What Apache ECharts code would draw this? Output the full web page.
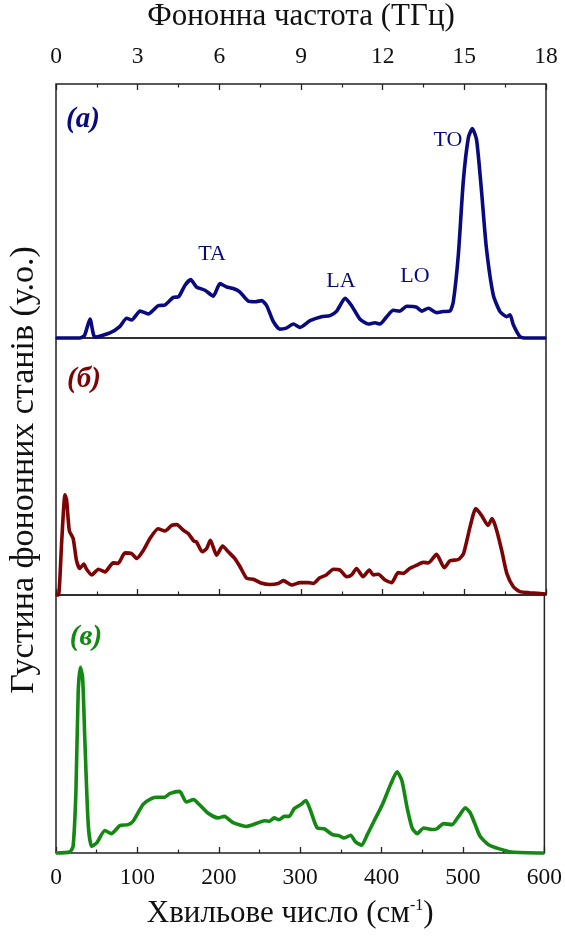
<!DOCTYPE html>
<html>
<head>
<meta charset="utf-8">
<script src="https://cdn.jsdelivr.net/npm/echarts@6/dist/echarts.min.js"></script>
<style>
  html, body { margin: 0; padding: 0; background: #fff; }
  #main { width: 565px; height: 936px; }
</style>
</head>
<body>
<div id="main"></div>
<script>
// хвильове число (см-1) та густина станів (% висоти панелі)
const waveA = [0, 29, 35, 41.6, 47.8, 66, 78, 86.5, 92.6, 103, 113, 125, 133.5, 143.7, 150, 158, 165, 172, 182.5, 192.6, 200.8, 209, 217, 225, 235.5, 243.7, 252, 258, 266, 274, 282, 290.6, 298.8, 311, 325, 335.5, 343.7, 354, 362, 372, 382.4, 390.6, 396.7, 405, 413, 421, 429.4, 441.6, 447.8, 456, 466, 474, 482.4, 486.5, 492.6, 498.8, 505, 509.8, 515, 521, 527, 535.5, 543.7, 552, 556, 560, 568, 576, 600]
const dosA = [0, 0, 1, 7.5, 0.3, 2, 4.5, 7.8, 7.1, 10.6, 9.5, 12.7, 13, 16, 16.2, 20.8, 23, 20.1, 18.8, 16.5, 21.4, 20.1, 19.5, 18.2, 14.5, 14.3, 14.7, 12.7, 6.5, 3.5, 3.9, 5.5, 4.2, 6.8, 8.4, 8.8, 10.6, 15.6, 12.7, 7.5, 5.5, 6, 5.5, 8.4, 10.9, 10.6, 12.5, 12.1, 10.6, 11.7, 10, 10.4, 10.6, 14.3, 32.5, 62, 79, 82.5, 78, 58, 35.5, 16.9, 10.4, 8.4, 9.1, 5.2, 0.6, 0, 0]

const waveB = [0, 3, 7, 11, 13, 16.3, 21, 25, 29, 34, 37.5, 43.7, 52, 60, 70, 76, 84.5, 92.6, 98.8, 107, 115, 125, 133.5, 141.6, 147.8, 156, 162, 169, 172, 179, 184.5, 189, 196.7, 204, 211, 219, 225, 233.5, 241.6, 250, 262, 272, 278.4, 288.6, 298.8, 309, 315, 323, 331, 339.6, 347.8, 356, 362, 368, 376, 383.7, 388.6, 394.7, 403, 411, 419, 425, 433, 441.6, 449.8, 456, 466, 475.5, 482.4, 492.6, 499, 507, 514, 521, 529, 534, 539, 545.7, 552, 560, 568, 580, 600]
const dosB = [0, 0, 21, 39, 37, 25, 22, 13.6, 10.3, 12, 10, 7.8, 10, 9, 12.5, 12.3, 16.4, 16.1, 14.2, 17.4, 22, 25.8, 24.9, 27.1, 27.4, 25.2, 23.9, 20.9, 20.7, 16.8, 18.1, 21.3, 15.5, 19, 16.8, 14.2, 11.2, 6.5, 6.1, 4.8, 4.1, 4.5, 5.6, 3.9, 4.8, 4.8, 4.5, 6.7, 7.8, 10, 9.7, 7.1, 7.8, 10.3, 7.1, 9.7, 7.8, 8.1, 5.8, 4.8, 8.7, 8.4, 10.3, 11.6, 12.7, 12.5, 15.8, 10.6, 13.3, 13.8, 16.1, 26.5, 33.6, 31, 27.1, 29.7, 25.8, 17.4, 8.4, 3.2, 1.3, 0.9, 0.4]

const waveC = [0, 17, 21, 24.5, 27.3, 30, 32.7, 35.5, 39.6, 43.7, 50, 60, 68, 78.4, 88.6, 94.7, 107, 117, 125, 133.5, 139.6, 151.8, 160, 169, 176, 186.5, 198.8, 206.9, 217, 233.5, 245.7, 256, 262, 268, 274, 280.4, 286.5, 292.6, 300.8, 307, 313, 321, 329.4, 339.6, 347.8, 353.9, 362, 368, 375.5, 382.4, 390.6, 401, 411, 419, 425, 431.4, 437.6, 443.7, 451.8, 462, 468, 476, 486.5, 494.7, 502.9, 509, 515, 521, 531.4, 543.7, 560, 600]
const dosC = [0, 0.4, 2.6, 24, 62.7, 72, 68, 43.3, 11, 2.6, 3.9, 8.7, 7.5, 10.6, 11, 12.3, 18.8, 21.1, 21.6, 21.6, 23, 23.9, 19.8, 20.7, 18.8, 15.5, 13.6, 14.2, 11.9, 10.3, 11.4, 12.5, 12.3, 13.6, 12.9, 14.2, 14.2, 17.2, 18.8, 20.3, 16.2, 9.7, 9.4, 7.1, 6.7, 5.8, 6.9, 4.3, 3, 7.1, 12.3, 18.8, 26.5, 31.5, 28, 17.5, 9.7, 7.5, 9.7, 9.1, 9.4, 11.4, 11, 14.2, 17.5, 15.5, 11, 6.5, 3.2, 1.7, 0.4, 0]

const cmTicks = [0, 100, 200, 300, 400, 500, 600]
const thzTicks = [0, 3, 6, 9, 12, 15, 18]

const colorA = '#0a0a80'
const colorB = '#7d0404'
const colorC = '#138813'
const frame = '#222'
const serif = 'Liberation Serif'

const zip = (xs, ys) => xs.map((x, i) => [x, ys[i]])

const myChart = echarts.init(document.getElementById('main'))

const tick = { inside: true, length: 6, lineStyle: { color: frame, width: 1.3 } }
const minor = { show: true, splitNumber: 2, length: 3.5, lineStyle: { color: frame, width: 1.2 } }
const cmAxis = (gridIndex, extra) => Object.assign({
  type: 'value',
  gridIndex: gridIndex,
  min: cmTicks[0],
  max: cmTicks[cmTicks.length - 1],
  interval: 100,
  axisLine: { show: false },
  axisTick: tick,
  minorTick: minor,
  axisLabel: { show: false },
  splitLine: { show: false }
}, extra)

const option = {
  animation: false,
  backgroundColor: '#fff',
  grid: [
    { left: 56, right: 19, top: 79, height: 259, show: true, borderColor: frame, borderWidth: 1.5 },
    { left: 56, right: 19, top: 338, height: 257, show: true, borderColor: frame, borderWidth: 1.5 },
    { left: 56, right: 19, top: 595, height: 258, show: true, borderColor: frame, borderWidth: 1.5 }
  ],
  xAxis: [
    cmAxis(0, { axisTick: { show: false }, minorTick: { show: false } }),
    {
      type: 'value',
      gridIndex: 0,
      position: 'top',
      min: thzTicks[0],
      max: thzTicks[thzTicks.length - 1],
      interval: 3,
      axisLine: { show: false },
      axisTick: tick,
      minorTick: minor,
      splitLine: { show: false },
      axisLabel: { margin: 15, fontFamily: serif, fontSize: 23.5, color: '#111' },
      name: 'Фононна частота (ТГц)',
      nameLocation: 'middle',
      nameGap: 52,
      nameTextStyle: { fontFamily: serif, fontSize: 31, color: '#111' }
    },
    cmAxis(1),
    cmAxis(2, {
      axisLabel: { show: true, margin: 13, fontFamily: serif, fontSize: 23.5, color: '#111' },
      name: '{a|Хвильове число (см}{s|-1}{a|)}',
      nameLocation: 'middle',
      nameGap: 45,
      nameTextStyle: {
        padding: [0, 20, 0, 0],
        rich: {
          a: { fontFamily: serif, fontSize: 31, color: '#111' },
          s: { fontFamily: serif, fontSize: 16, color: '#111', verticalAlign: 'top', padding: [0, 0, 16, 0] }
        }
      }
    })
  ],
  yAxis: [0, 1, 2].map(i => ({
    type: 'value',
    gridIndex: i,
    min: 0,
    max: 100,
    show: false
  })),
  series: [
    { data: zip(waveA, dosA), xAxisIndex: 0, yAxisIndex: 0, color: colorA },
    { data: zip(waveB, dosB), xAxisIndex: 2, yAxisIndex: 1, color: colorB },
    { data: zip(waveC, dosC), xAxisIndex: 3, yAxisIndex: 2, color: colorC }
  ].map(s => ({
    type: 'line',
    data: s.data,
    xAxisIndex: s.xAxisIndex,
    yAxisIndex: s.yAxisIndex,
    smooth: 0.2,
    showSymbol: false,
    clip: false,
    lineStyle: { color: s.color, width: 3.6 },
    z: 1
  })),
  graphic: [
    { type: 'text', x: 24, y: 470, rotation: Math.PI / 2, style: { text: 'Густина фононних станів (у.о.)', font: '34px "Liberation Serif"', fill: '#111', textAlign: 'center', textVerticalAlign: 'middle' } },
    { type: 'text', x: 83, y: 120, style: { text: '(а)', font: 'italic bold 29px "Liberation Serif"', fill: colorA, textAlign: 'center', textVerticalAlign: 'middle' } },
    { type: 'text', x: 84, y: 380, style: { text: '(б)', font: 'italic bold 29px "Liberation Serif"', fill: colorB, textAlign: 'center', textVerticalAlign: 'middle' } },
    { type: 'text', x: 86, y: 638, style: { text: '(в)', font: 'italic bold 29px "Liberation Serif"', fill: colorC, textAlign: 'center', textVerticalAlign: 'middle' } },
    { type: 'text', x: 212, y: 254, style: { text: 'TA', font: '22px "Liberation Serif"', fill: colorA, textAlign: 'center', textVerticalAlign: 'middle' } },
    { type: 'text', x: 341, y: 281, style: { text: 'LA', font: '22px "Liberation Serif"', fill: colorA, textAlign: 'center', textVerticalAlign: 'middle' } },
    { type: 'text', x: 415, y: 276, style: { text: 'LO', font: '22px "Liberation Serif"', fill: colorA, textAlign: 'center', textVerticalAlign: 'middle' } },
    { type: 'text', x: 448, y: 140, style: { text: 'TO', font: '22px "Liberation Serif"', fill: colorA, textAlign: 'center', textVerticalAlign: 'middle' } }
  ]
}
myChart.setOption(option)
</script>
</body>
</html>
